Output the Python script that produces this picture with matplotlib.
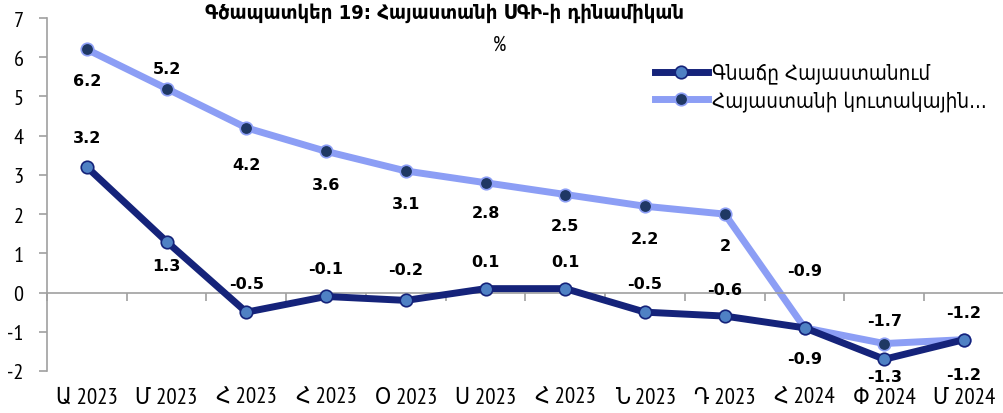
import numpy as np
import matplotlib
matplotlib.use('Agg')
import matplotlib.pyplot as plt

plt.rcParams['font.family'] = ['PT Sans Narrow', 'DejaVu Sans']
plt.rcParams['font.stretch'] = 'condensed'
plt.rcParams['axes.unicode_minus'] = False

# данные
categories = ['Ա 2023', 'Մ 2023', 'Հ 2023', 'Հ 2023', 'Օ 2023', 'Ս 2023',
              'Հ 2023', 'Ն 2023', 'Դ 2023', 'Հ 2024', 'Փ 2024', 'Մ 2024']
prices_armenia = [3.2, 1.3, -0.5, -0.1, -0.2, 0.1, 0.1, -0.5, -0.6, -0.9, -1.7, -1.2]
consumer_armenia = [6.2, 5.2, 4.2, 3.6, 3.1, 2.8, 2.5, 2.2, 2.0, -0.9, -1.3, -1.2]
labels_dark = ['3.2', '1.3', '-0.5', '-0.1', '-0.2', '0.1', '0.1', '-0.5', '-0.6', '-0.9', '-1.7', '-1.2']
labels_light = ['6.2', '5.2', '4.2', '3.6', '3.1', '2.8', '2.5', '2.2', '2', '-0.9', '-1.3', '-1.2']
series_names = ['Գնաճը Հայաստանում', 'Հայաստանի կուտակային...']
title = 'Գծապատկեր 19: Հայաստանի ՍԳԻ-ի դինամիկան'

# смещения подписей (пиксели, вверх +)
off_dark = [30, -24, 29, 28, 31, 27, 27, 29, 27, 57, 39, 27]
off_light = [-31, 20, -37, -33, -33, -30, -31, -32, -31, -31, -33, -35]

dark = '#15237a'
light = '#8c9ef5'
x = np.arange(len(categories))

fig = plt.figure(figsize=(10.04, 4.14), dpi=100)
ax = fig.add_axes([47 / 1004, 42 / 414, 957 / 1004, 353 / 414])

ax.plot(x, prices_armenia, color=dark, lw=5, marker='o', ms=9,
        markerfacecolor='#4f81c4', markeredgecolor=dark, mew=1.2,
        label=series_names[0], zorder=3)
ax.plot(x, consumer_armenia, color=light, lw=5, marker='o', ms=9,
        markerfacecolor='#1f3864', markeredgecolor=light, mew=1.2,
        label=series_names[1], zorder=2)

for i in range(len(x)):
    ax.annotate(labels_dark[i], (x[i], prices_armenia[i]), xytext=(0, off_dark[i]),
                textcoords='offset pixels', ha='center', va='center',
                fontsize=11.5, fontweight='bold', family='DejaVu Sans',
                fontstretch='normal', zorder=5)
    ax.annotate(labels_light[i], (x[i], consumer_armenia[i]), xytext=(0, off_light[i]),
                textcoords='offset pixels', ha='center', va='center',
                fontsize=11.5, fontweight='bold', family='DejaVu Sans',
                fontstretch='normal', zorder=5)

ax.set_xlim(-0.5, len(x) - 0.5)
ax.set_ylim(-2, 7)
ax.set_yticks(range(-2, 8))
ax.tick_params(axis='y', colors='#a0a0a0', length=6, width=1.2, labelsize=16,
               labelcolor='black', pad=11)

for s in ['top', 'right']:
    ax.spines[s].set_visible(False)
ax.spines['left'].set_color('#a0a0a0')
ax.spines['left'].set_linewidth(1.2)
ax.spines['bottom'].set_position(('data', 0))
ax.spines['bottom'].set_color('#a0a0a0')
ax.spines['bottom'].set_linewidth(1.2)
ax.set_xticks(np.arange(-0.5, len(x), 1))
ax.set_xticklabels([])
ax.tick_params(axis='x', colors='#a0a0a0', length=6, width=1.2, direction='out')

for i, c in enumerate(categories):
    ax.text(x[i], -0.074, c, transform=ax.get_xaxis_transform(),
            ha='center', va='center', fontsize=16.5)

fig.text(0.443, 0.969, title, ha='center', va='center', fontsize=14.5,
         fontweight='bold', family='DejaVu Sans')
fig.text(0.498, 0.891, '%', ha='center', va='center', fontsize=15)

ax.legend(loc='upper left', bbox_to_anchor=(0.635, 0.873), frameon=False,
          handlelength=2.6, handletextpad=0.2, borderpad=0, borderaxespad=0,
          labelspacing=0.3, prop={'family': 'DejaVu Sans', 'size': 14.8,
                                  'stretch': 'condensed'})

plt.savefig('out.png', dpi=100)
